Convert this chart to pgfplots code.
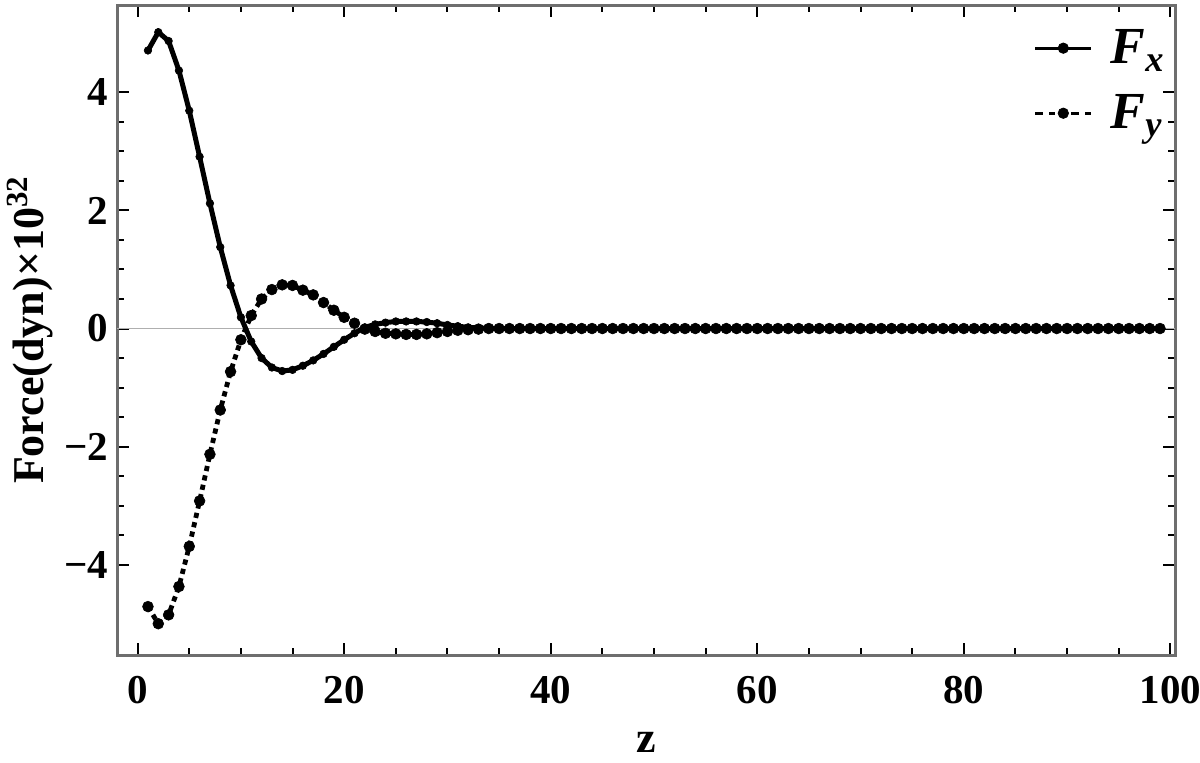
\documentclass[border=0pt]{standalone}
\usepackage{fontspec}
\setmainfont{Liberation Serif}
\usepackage{pgfplots}
\pgfplotsset{compat=1.18}
\usepackage{pgfplotstable}
\definecolor{framegray}{RGB}{110,110,110}
\definecolor{zerogray}{RGB}{175,175,175}
\pgfplotstableread{
z fx fy
1 4.71 -4.71
2 5.02 -5.00
3 4.87 -4.85
4 4.37 -4.37
5 3.69 -3.69
6 2.91 -2.92
7 2.12 -2.13
8 1.38 -1.38
9 0.73 -0.73
10 0.19 -0.19
11 -0.22 0.22
12 -0.50 0.50
13 -0.66 0.66
14 -0.72 0.74
15 -0.70 0.73
16 -0.63 0.65
17 -0.54 0.57
18 -0.43 0.44
19 -0.31 0.31
20 -0.19 0.19
21 -0.08 0.09
22 0.02 -0.01
23 0.07 -0.05
24 0.10 -0.08
25 0.12 -0.09
26 0.12 -0.10
27 0.12 -0.10
28 0.11 -0.09
29 0.09 -0.07
30 0.06 -0.05
31 0.04 -0.03
32 0.02 -0.02
33 0.01 -0.01
34 0 0
35 0 0
36 0 0
37 0 0
38 0 0
39 0 0
40 0 0
41 0 0
42 0 0
43 0 0
44 0 0
45 0 0
46 0 0
47 0 0
48 0 0
49 0 0
50 0 0
51 0 0
52 0 0
53 0 0
54 0 0
55 0 0
56 0 0
57 0 0
58 0 0
59 0 0
60 0 0
61 0 0
62 0 0
63 0 0
64 0 0
65 0 0
66 0 0
67 0 0
68 0 0
69 0 0
70 0 0
71 0 0
72 0 0
73 0 0
74 0 0
75 0 0
76 0 0
77 0 0
78 0 0
79 0 0
80 0 0
81 0 0
82 0 0
83 0 0
84 0 0
85 0 0
86 0 0
87 0 0
88 0 0
89 0 0
90 0 0
91 0 0
92 0 0
93 0 0
94 0 0
95 0 0
96 0 0
97 0 0
98 0 0
99 0 0
}\datatable
\begin{document}
\begin{tikzpicture}
\begin{axis}[
  scale only axis,
  width=528.75pt, height=325pt,
  xmin=-1.95, xmax=100.45,
  ymin=-5.53, ymax=5.48,
  axis line style={framegray, line width=1.5pt},
  tick style={black, line width=1pt},
  major tick length=6pt, minor tick length=3.5pt,
  tick align=inside,
  xtick={0,20,40,60,80,100},
  xticklabels={0,20,40,60,80,100},
  minor x tick num=3,
  ytick={-4,-2,0,2,4},
  yticklabels={−4,−2,0,2,4},
  minor y tick num=3,
  ticklabel style={font=\fontsize{20.5}{24}\selectfont\bfseries},
  xticklabel style={yshift=-7pt},
  yticklabel style={xshift=-1pt},
  xlabel={\textbf{z}},
  ylabel={\textbf{Force(dyn)×10\textsuperscript{32}}},
  label style={font=\fontsize{22}{26}\selectfont},
  xlabel style={at={(axis description cs:0.5,0)}, anchor=base, yshift=-48.5pt},
  ylabel style={at={(axis description cs:-0.0827,0.5)}, anchor=center},
  legend style={draw=none, fill=none, at={(1.0,0.975)}, anchor=north east,
    font=\fontsize{26}{30}\selectfont, row sep=10pt},
  legend cell align=left,
  clip=false,
]
\addplot[zerogray, line width=0.6pt, forget plot] coordinates {(-1.95,0) (100.45,0)};
\addplot[black, line width=2.5pt, mark=*, mark size=1.9pt, mark options={line width=0.3pt}, forget plot] table[x=z, y=fx] {\datatable};
\addplot[black, line width=2.4pt, dash pattern=on 2.6pt off 2.2pt, mark=*, mark size=2.7pt, mark options={solid, line width=0.3pt}, forget plot] table[x=z, y=fy] {\datatable};
\addlegendimage{legend image code/.code={\draw[black, line width=1.4pt] (0pt,0pt) -- (28pt,0pt); \fill[black] (14pt,0pt) circle (2.6pt);}}
\addlegendentry{\hspace{7pt}\textbf{\textit{F}}\textsubscript{\textbf{\textit{x}}}}
\addlegendimage{legend image code/.code={\draw[black, line width=1.4pt, dash pattern=on 4pt off 3pt] (0pt,0pt) -- (10pt,0pt) (18pt,0pt) -- (28pt,0pt); \fill[black] (14pt,0pt) circle (2.6pt);}}
\addlegendentry{\hspace{7pt}\textbf{\textit{F}}\textsubscript{\textbf{\textit{y}}}}
\end{axis}
\pgfresetboundingbox
\useasboundingbox (-58.75pt,-53.5pt) rectangle (541.25pt,327.5pt);
\end{tikzpicture}
\end{document}
